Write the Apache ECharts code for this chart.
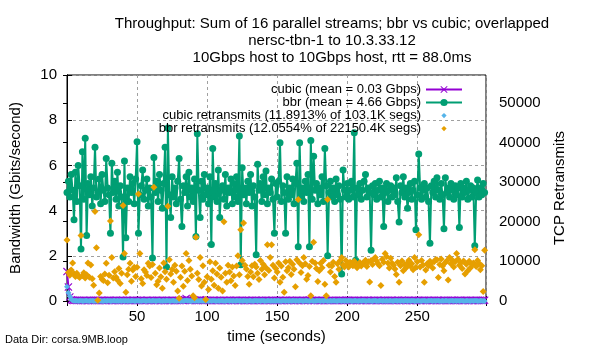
<!DOCTYPE html>
<html>
<head>
<meta charset="utf-8">
<script src="https://cdn.jsdelivr.net/npm/echarts@6/dist/echarts.min.js"></script>
<style>
  html, body { margin: 0; padding: 0; background: #fff; }
  #chart { width: 600px; height: 350px; }
</style>
</head>
<body>
<div id="chart"></div>
<script>
// one sample per second, t = array index
var xTicks = [50, 100, 150, 200, 250];
var seriesNames = [
  'cubic (mean = 0.03 Gbps)',
  'bbr (mean = 4.66 Gbps)',
  'cubic retransmits (11.8913% of 103.1K segs)',
  'bbr retransmits (12.0554% of 22150.4K segs)'
];

// cubic throughput, Gbps
var cubicGbps = [
  1.3,0.62,0.18,0.05,0.03,0.02,0.03,0.02,0.02,0.03,0.02,0.02,0.03,0.02,0.02,0.02,0.03,0.02,0.02,0.03,
  0.02,0.02,0.03,0.02,0.02,0.03,0.02,0.02,0.02,0.03,0.02,0.03,0.02,0.02,0.02,0.03,0.02,0.02,0.03,0.02,
  0.03,0.02,0.02,0.03,0.02,0.02,0.02,0.03,0.02,0.02,0.03,0.02,0.02,0.03,0.02,0.02,0.02,0.03,0.02,0.02,
  0.02,0.03,0.02,0.02,0.03,0.02,0.02,0.02,0.03,0.02,0.02,0.03,0.02,0.02,0.02,0.03,0.02,0.02,0.03,0.02,
  0.02,0.02,0.03,0.02,0.06,0.11,0.05,0.03,0.02,0.02,0.03,0.02,0.02,0.03,0.02,0.05,0.03,0.02,0.02,0.03,
  0.02,0.02,0.03,0.02,0.02,0.03,0.02,0.02,0.02,0.03,0.02,0.02,0.03,0.02,0.02,0.02,0.03,0.02,0.02,0.03,
  0.02,0.03,0.02,0.02,0.02,0.03,0.02,0.02,0.03,0.02,0.02,0.02,0.03,0.02,0.02,0.03,0.02,0.02,0.02,0.03,
  0.02,0.02,0.03,0.02,0.02,0.02,0.03,0.02,0.02,0.03,0.02,0.02,0.03,0.02,0.02,0.02,0.03,0.02,0.02,0.03,
  0.02,0.03,0.02,0.02,0.03,0.02,0.02,0.02,0.03,0.02,0.02,0.03,0.02,0.04,0.02,0.03,0.02,0.02,0.03,0.02,
  0.02,0.02,0.03,0.02,0.02,0.03,0.02,0.02,0.02,0.03,0.02,0.02,0.03,0.02,0.02,0.03,0.02,0.02,0.02,0.03,
  0.02,0.03,0.02,0.02,0.02,0.03,0.02,0.02,0.03,0.02,0.02,0.02,0.03,0.02,0.02,0.03,0.02,0.02,0.02,0.03,
  0.02,0.02,0.03,0.02,0.02,0.02,0.03,0.02,0.02,0.03,0.02,0.02,0.03,0.02,0.02,0.02,0.03,0.02,0.02,0.03,
  0.02,0.03,0.02,0.02,0.03,0.02,0.02,0.02,0.03,0.02,0.02,0.03,0.02,0.02,0.02,0.03,0.02,0.02,0.03,0.02,
  0.02,0.02,0.03,0.02,0.02,0.03,0.02,0.02,0.02,0.03,0.02,0.02,0.03,0.02,0.02,0.03,0.02,0.02,0.02,0.03,
  0.02,0.03,0.02,0.02,0.02,0.03,0.02,0.02,0.03,0.02,0.02,0.02,0.03,0.02,0.02,0.03,0.02,0.02,0.03
];

// bbr throughput, Gbps
var bbrGbps = [
  4.8,5.3,4.6,5.6,4.9,3.6,5.7,4.4,6.0,5.1,
  2.3,6.6,4.5,7.2,2.9,5.2,4.7,5.5,4.2,5.0,
  6.8,4.6,4.8,5.4,4.3,5.6,4.9,4.4,6.3,5.0,
  4.7,3.0,6.1,4.8,5.3,4.5,5.7,4.2,5.1,4.6,
  1.95,6.2,2.8,5.0,4.4,5.5,4.8,5.2,4.3,5.4,
  7.05,3.0,4.7,5.1,5.8,4.5,4.9,5.4,4.2,5.0,
  4.6,1.9,6.35,4.8,5.3,4.4,5.6,4.9,4.1,5.2,
  6.8,1.5,7.65,4.7,3.7,5.5,4.6,5.0,4.3,5.3,
  6.3,4.5,3.3,5.1,4.8,5.5,4.2,5.7,4.6,5.0,
  4.4,5.4,2.85,7.4,4.9,3.7,5.3,4.5,5.6,4.7,
  5.0,4.3,5.5,2.5,6.75,4.6,5.2,4.4,5.8,3.7,
  4.9,5.1,4.5,5.6,4.2,5.0,4.8,5.4,4.3,5.2,
  4.6,5.5,4.4,7.3,1.6,5.9,4.7,5.0,4.3,5.3,
  4.8,5.6,4.2,5.1,4.6,2.05,6.05,4.9,5.2,4.4,
  5.5,4.7,5.75,4.3,5.0,4.8,5.4,4.5,3.0,5.2,
  4.6,5.3,7.0,4.4,5.1,4.8,3.0,5.5,4.5,5.0,
  4.7,5.4,4.3,5.2,6.1,2.4,7.0,4.6,5.0,4.4,
  5.3,4.8,5.6,2.4,7.1,4.5,6.4,4.9,5.2,4.3,
  5.0,4.7,5.5,4.4,6.75,5.1,2.0,4.8,5.3,4.6,
  5.0,4.4,5.4,4.7,5.1,4.5,1.2,5.8,4.9,4.6,
  5.2,4.5,4.9,5.3,4.6,7.45,1.8,5.0,4.7,5.2,
  4.5,4.9,5.3,5.6,4.6,5.0,4.8,2.25,5.1,4.7,
  5.2,4.5,4.9,5.3,4.6,5.0,3.3,4.8,5.2,4.4,
  4.9,5.1,4.6,5.0,4.7,5.45,4.4,3.5,5.1,4.8,
  5.5,4.6,5.0,4.1,4.8,5.2,4.5,4.9,5.3,3.15,
  4.7,6.5,5.0,4.5,4.9,5.2,4.6,5.0,4.4,2.55,
  5.1,4.8,5.3,4.6,5.45,4.9,4.5,5.2,4.7,3.2,
  5.45,4.8,5.0,4.6,5.2,4.9,4.5,5.1,4.7,5.0,
  3.25,5.2,4.6,5.0,4.8,5.3,4.5,4.9,5.1,4.6,
  5.0,2.45,4.8,5.35,4.6,5.0,4.7,5.2,4.8
];

// cubic retransmits, segments
var cubicRetrans = [
  3600,2100,1200,450,160,90,60,40,30,50,40,20,30,60,40,30,20,40,50,30,
  30,50,20,40,60,30,20,40,30,50,40,30,20,60,40,30,50,20,40,30,
  50,30,40,20,60,30,40,50,20,30,40,60,30,20,50,40,30,20,60,40,
  30,40,50,20,30,60,40,30,20,50,30,40,60,20,30,50,40,30,20,40,
  60,30,40,20,80,120,60,40,30,20,50,40,30,60,20,70,40,30,50,20,
  40,30,60,20,50,40,30,20,60,30,40,50,20,30,60,40,30,50,20,40,
  30,60,40,20,50,30,40,60,20,30,50,40,30,20,60,40,30,50,20,40,
  50,30,20,60,40,30,50,20,40,30,60,40,20,30,50,40,30,60,20,40,
  30,50,40,20,60,30,40,50,20,30,40,60,30,20,50,40,30,20,60,40,
  40,30,60,20,50,40,30,20,60,30,40,50,20,30,60,40,30,50,20,40,
  30,40,50,20,30,60,40,30,20,50,30,40,60,20,30,50,40,30,20,40,
  50,30,20,60,40,30,50,20,40,30,60,40,20,30,50,40,30,60,20,40,
  30,50,40,20,60,30,40,50,20,30,40,60,30,20,50,40,30,20,60,40,
  40,30,60,20,50,40,30,20,60,30,40,50,20,30,60,40,30,50,20,40,
  30,40,50,20,30,60,40,30,20,50,30,40,60,20,30,50,40,30,20
];

// bbr retransmits, thousands of segments
var bbrRetransK = [
  15.4,7.2,6.5,7.8,9.6,6.9,6.2,7.0,6.3,5.9,
  16.5,6.4,7.1,5.8,6.6,9.6,6.0,9.1,5.6,4.0,
  22.6,13.4,0.2,2.0,6.2,5.5,5.2,6.8,9.5,4.6,
  6.5,20.2,11.0,5.8,7.4,6.0,5.3,8.2,4.4,7.0,
  24.1,12.0,2.2,6.6,8.0,9.5,5.0,7.8,8.5,6.2,
  8.5,27.0,12.0,5.6,4.4,7.9,7.3,6.4,9.5,8.8,
  5.9,9.2,28.7,7.0,4.1,5.0,8.3,6.1,3.2,9.6,
  7.4,5.5,23.9,10.4,6.8,8.0,4.7,9.0,7.5,2.5,
  0.7,6.0,8.8,3.7,7.5,12.0,5.2,10.2,8.0,6.3,
  1.3,0.8,16.1,7.0,5.4,11.0,3.8,8.9,4.7,0.4,
  6.1,2.9,9.9,5.5,7.6,4.0,9.5,6.8,3.2,8.3,
  6.0,2.5,20.0,7.0,4.7,9.0,7.3,5.1,8.6,6.3,
  3.9,8.8,11.4,6.6,18.0,10.2,19.7,9.0,8.1,6.2,
  4.2,7.3,8.9,6.1,9.3,8.6,7.0,5.4,10.2,8.0,
  9.3,6.6,8.4,14.2,7.7,11.0,14.2,9.0,5.8,8.2,
  7.3,9.6,4.7,8.8,6.0,2.2,9.9,7.6,8.4,10.0,
  6.7,9.3,8.0,3.6,10.4,25.6,9.6,7.2,8.9,11.0,
  9.4,5.5,6.4,8.7,1.3,10.0,14.8,9.6,8.2,4.9,
  7.6,9.5,8.4,10.2,4.2,1.3,25.6,9.0,7.3,8.8,
  9.8,6.2,4.7,9.4,8.0,10.2,11.0,9.1,8.6,10.2,
  9.4,8.6,9.8,9.6,8.9,10.0,9.1,8.4,9.3,9.7,
  8.8,9.5,9.6,10.3,8.7,9.9,4.8,10.2,9.2,10.6,
  11.0,10.1,9.4,8.9,3.9,10.5,9.8,12.0,11.2,9.6,
  8.3,10.8,9.5,9.0,8.1,6.7,9.8,4.7,8.9,10.1,
  7.6,9.2,8.4,9.6,10.3,8.8,9.4,7.9,11.0,8.5,
  9.9,16.7,8.6,10.2,9.1,4.7,7.8,9.4,8.9,10.0,
  9.6,8.3,9.9,10.4,10.4,5.9,9.2,10.6,8.8,7.6,
  9.7,10.1,5.3,11.0,9.4,10.3,8.6,9.9,12.0,10.5,
  9.0,9.6,8.2,10.1,6.8,9.3,7.6,10.0,8.4,9.2,
  9.6,12.9,8.7,10.2,9.5,7.9,8.9,2.4,12.8
];

function pairs(arr, scale) {
  return arr.map(function (v, i) { return [i, v * (scale || 1)]; });
}

var crossSym = 'path://M0,1L1,0L5,4L9,0L10,1L6,5L10,9L9,10L5,6L1,10L0,9L4,5Z';
// diamond with padding so the legend icon stays small
var legendDiamond = 'path://M0,0M12,12M6,2.5L9.5,6L6,9.5L2.5,6Z';

var font = 'Liberation Sans, Arial, sans-serif';
var chart = echarts.init(document.getElementById('chart'));
chart.setOption({
  animation: false,
  backgroundColor: '#fff',
  textStyle: { fontFamily: font, color: '#000' },
  title: {
    text: 'Throughput: Sum of 16 parallel streams; bbr vs cubic; overlapped\nnersc-tbn-1 to 10.3.33.12\n10Gbps host to 10Gbps host, rtt = 88.0ms',
    left: 327,
    top: 10,
    textAlign: 'center',
    textStyle: { fontFamily: font, fontSize: 15, fontWeight: 'normal', color: '#000', lineHeight: 17 }
  },
  graphic: [{
    type: 'text', left: 5, top: 334,
    style: { text: 'Data Dir: corsa.9MB.loop', font: '11px ' + font, fill: '#000' }
  }],
  legend: {
    orient: 'vertical',
    right: 132,
    top: 78,
    align: 'right',
    itemWidth: 36,
    itemHeight: 9,
    itemGap: 0,
    selectedMode: false,
    textStyle: { fontFamily: font, fontSize: 13, color: '#000', lineHeight: 12 },
    data: [
      { name: seriesNames[0] },
      { name: seriesNames[1] },
      { name: seriesNames[2], icon: legendDiamond },
      { name: seriesNames[3], icon: legendDiamond }
    ]
  },
  grid: { left: 64, right: 114, top: 75, bottom: 49, show: true, borderColor: '#000', borderWidth: 1 },
  xAxis: [{
    type: 'value', min: 0, max: 299, interval: 50,
    name: 'time (seconds)', nameLocation: 'middle', nameGap: 24,
    nameTextStyle: { fontFamily: font, fontSize: 15, color: '#000' },
    axisLine: { lineStyle: { color: '#000' } },
    axisTick: { inside: true, length: 5, lineStyle: { color: '#000' } },
    axisLabel: {
      margin: 8, fontSize: 15, color: '#000', fontFamily: font,
      formatter: function (v) { return xTicks.indexOf(v) >= 0 ? String(v) : ''; }
    },
    splitLine: { show: true, lineStyle: { color: '#a0a0a0', type: [3, 3] } }
  }, {
    type: 'value', min: 0, max: 299, interval: 50, position: 'top',
    axisLine: { lineStyle: { color: '#000' } },
    axisTick: { inside: true, length: 5, lineStyle: { color: '#000' } },
    axisLabel: { show: false },
    splitLine: { show: false }
  }],
  yAxis: [{
    type: 'value', min: 0, max: 10, interval: 2,
    name: 'Bandwidth (Gbits/second)', nameLocation: 'middle', nameGap: 44, nameRotate: 90,
    nameTextStyle: { fontFamily: font, fontSize: 15, color: '#000' },
    axisLine: { show: true, lineStyle: { color: '#000' } },
    axisTick: { inside: true, length: 5, lineStyle: { color: '#000' } },
    axisLabel: { margin: 10, fontSize: 15, color: '#000', fontFamily: font },
    splitLine: { show: true, lineStyle: { color: '#a0a0a0', type: [3, 3] } }
  }, {
    type: 'value', min: 0, max: 57000, interval: 10000, position: 'right',
    name: 'TCP Retransmits', nameLocation: 'middle', nameGap: 66, nameRotate: 90,
    nameTextStyle: { fontFamily: font, fontSize: 15, color: '#000' },
    axisLine: { show: true, lineStyle: { color: '#000' } },
    axisTick: { inside: true, length: 4, lineStyle: { color: '#000' } },
    axisLabel: {
      margin: 13, fontSize: 15, color: '#000', fontFamily: font,
      formatter: function (v) { return v % 10000 === 0 ? String(v) : ''; }
    },
    splitLine: { show: false }
  }],
  series: [{
    name: seriesNames[0], type: 'line', xAxisIndex: 0, yAxisIndex: 0, z: 2,
    data: pairs(cubicGbps),
    color: '#9400d3',
    symbol: crossSym, symbolSize: 8,
    lineStyle: { width: 2, color: '#9400d3' },
    itemStyle: { color: '#9400d3' }
  }, {
    name: seriesNames[1], type: 'line', xAxisIndex: 0, yAxisIndex: 0, z: 3,
    data: pairs(bbrGbps),
    color: '#009e73',
    symbol: 'circle', symbolSize: 7,
    lineStyle: { width: 2, color: '#009e73' },
    itemStyle: { color: '#009e73' }
  }, {
    name: seriesNames[2], type: 'scatter', xAxisIndex: 0, yAxisIndex: 1, z: 4,
    data: pairs(cubicRetrans),
    symbol: 'diamond', symbolSize: 6,
    itemStyle: { color: '#56b4e9', opacity: 1 }
  }, {
    name: seriesNames[3], type: 'scatter', xAxisIndex: 0, yAxisIndex: 1, z: 5,
    data: pairs(bbrRetransK, 1000),
    symbol: 'diamond', symbolSize: 7,
    itemStyle: { color: '#e69f00', opacity: 1 }
  }]
});
</script>
</body>
</html>
